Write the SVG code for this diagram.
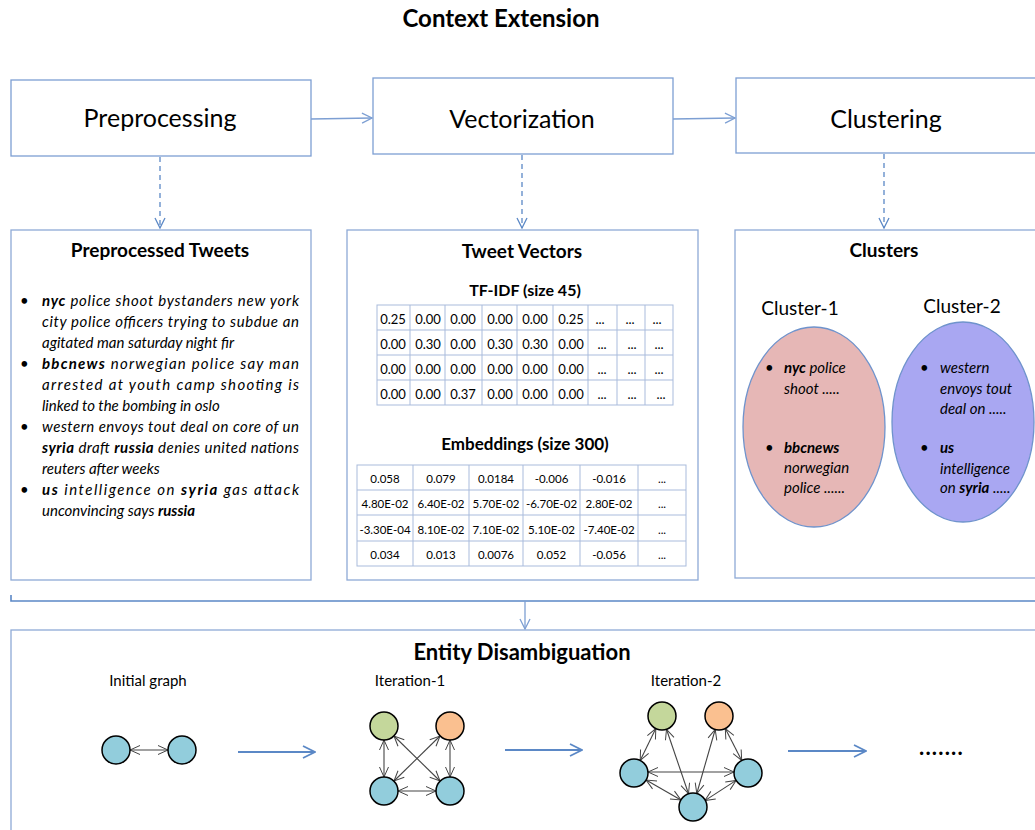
<svg xmlns="http://www.w3.org/2000/svg" width="1035" height="830" viewBox="0 0 1035 830">
<style>
text{font-family:Lato,"Open Sans","Liberation Sans",sans-serif;fill:#000}
.box{fill:#fff;stroke:#7d9fd3;stroke-width:1.3}
.panel{fill:#fff;stroke:#8eaad6;stroke-width:1.3}
.step{font-size:25px;text-anchor:middle}
.hdr{font-size:19px;font-weight:bold;text-anchor:middle}
.sub{font-size:16px;font-weight:bold;text-anchor:middle}
.tw{font-size:15px;font-style:italic}
.b{font-weight:bold}
.cell{font-size:13px;text-anchor:middle}
.ecell{font-size:11.5px;text-anchor:middle}
.grid{fill:none;stroke:#a9bbdc;stroke-width:1}
.flow{fill:none;stroke:#7d9fd3;stroke-width:1.3}
.dash{fill:none;stroke:#5b88c6;stroke-width:1.3;stroke-dasharray:5,4}
.big{fill:none;stroke:#5b88c6;stroke-width:1.8}
.edge{fill:none;stroke:#444;stroke-width:1.1}
.nd{stroke:#000;stroke-width:1.5}
.lbl{font-size:15px;text-anchor:middle}
</style>
<defs>
<marker id="ab" markerUnits="userSpaceOnUse" markerWidth="12" markerHeight="12" viewBox="0 0 12 12" refX="11" refY="6" orient="auto"><path d="M1,1 L11,6 L1,11" fill="none" stroke="#7d9fd3" stroke-width="1.3"/></marker>
<marker id="abd" markerUnits="userSpaceOnUse" markerWidth="12" markerHeight="12" viewBox="0 0 12 12" refX="11" refY="6" orient="auto"><path d="M1,1 L11,6 L1,11" fill="none" stroke="#5b88c6" stroke-width="1.3"/></marker>
<marker id="abig" markerUnits="userSpaceOnUse" markerWidth="14" markerHeight="14" viewBox="0 0 14 14" refX="13" refY="7" orient="auto"><path d="M1,1 L13,7 L1,13" fill="none" stroke="#5b88c6" stroke-width="1.8"/></marker>
<marker id="ae" markerUnits="userSpaceOnUse" markerWidth="12" markerHeight="12" viewBox="0 0 12 12" refX="11" refY="6" orient="auto-start-reverse"><path d="M1,1.5 L11,6 L1,10.5" fill="none" stroke="#444" stroke-width="1"/></marker>
</defs>
<rect width="1035" height="830" fill="#fff"/>
<text x="501" y="27" style="font-size:24px;font-weight:bold;text-anchor:middle">Context Extension</text>

<g id="preprocessing"><rect class="box" x="11" y="80" width="300" height="76"/><text class="step" x="160" y="127">Preprocessing</text></g>
<g id="vectorization"><rect class="box" x="373" y="78" width="300" height="76"/><text class="step" x="522" y="128">Vectorization</text></g>
<g id="clustering"><rect class="box" x="736" y="78" width="360" height="75"/><text class="step" x="886" y="128">Clustering</text></g>

<g id="preprocessed-tweets">
<rect class="panel" x="11" y="230" width="300" height="350"/>
<text class="hdr" x="160" y="257">Preprocessed Tweets</text>
<g class="tw">
<text x="20" y="306">•</text><text x="20" y="369">•</text><text x="20" y="432">•</text><text x="20" y="495">•</text>
<text x="42" y="306" textLength="257" lengthAdjust="spacing"><tspan class="b">nyc</tspan> police shoot bystanders new york</text>
<text x="42" y="327" textLength="257" lengthAdjust="spacing">city police officers trying to subdue an</text>
<text x="42" y="348">agitated man saturday night fir</text>
<text x="42" y="369" textLength="257" lengthAdjust="spacing"><tspan class="b">bbcnews</tspan> norwegian police say man</text>
<text x="42" y="390" textLength="257" lengthAdjust="spacing">arrested at youth camp shooting is</text>
<text x="42" y="411">linked to the bombing in oslo</text>
<text x="42" y="432" textLength="257" lengthAdjust="spacing">western envoys tout deal on core of un</text>
<text x="42" y="453" textLength="257" lengthAdjust="spacing"><tspan class="b">syria</tspan> draft <tspan class="b">russia</tspan> denies united nations</text>
<text x="42" y="474">reuters after weeks</text>
<text x="42" y="495" textLength="257" lengthAdjust="spacing"><tspan class="b">us</tspan> intelligence on <tspan class="b">syria</tspan> gas attack</text>
<text x="42" y="516">unconvincing says <tspan class="b">russia</tspan></text>
</g>
</g>

<g id="tweet-vectors">
<rect class="panel" x="347" y="230" width="351" height="350"/>
<text class="hdr" x="522" y="258">Tweet Vectors</text>
<text class="sub" x="525" y="296">TF-IDF (size 45)</text>
<g class="grid">
<rect x="377" y="305" width="296" height="100"/>
<path d="M377,330H673M377,355H673M377,380H673M410,305V405M445,305V405M482,305V405M517,305V405M553,305V405M588,305V405M617,305V405M645,305V405"/>
</g>
<g class="cell">
<text y="324"><tspan x="393">0.25</tspan><tspan x="428">0.00</tspan><tspan x="463">0.00</tspan><tspan x="500">0.00</tspan><tspan x="535">0.00</tspan><tspan x="571">0.25</tspan><tspan x="600">...</tspan><tspan x="630">...</tspan><tspan x="657">...</tspan></text>
<text y="349"><tspan x="393">0.00</tspan><tspan x="428">0.30</tspan><tspan x="463">0.00</tspan><tspan x="500">0.30</tspan><tspan x="535">0.30</tspan><tspan x="571">0.00</tspan><tspan x="602">...</tspan><tspan x="632">...</tspan><tspan x="659">...</tspan></text>
<text y="374"><tspan x="393">0.00</tspan><tspan x="428">0.00</tspan><tspan x="463">0.00</tspan><tspan x="500">0.00</tspan><tspan x="535">0.00</tspan><tspan x="571">0.00</tspan><tspan x="602">...</tspan><tspan x="632">...</tspan><tspan x="659">...</tspan></text>
<text y="399"><tspan x="393">0.00</tspan><tspan x="428">0.00</tspan><tspan x="463">0.37</tspan><tspan x="500">0.00</tspan><tspan x="535">0.00</tspan><tspan x="571">0.00</tspan><tspan x="602">...</tspan><tspan x="632">...</tspan><tspan x="661">...</tspan></text>
</g>
<text class="sub" x="525" y="450" style="font-size:17px">Embeddings (size 300)</text>
<g class="grid">
<rect x="357" y="465" width="329" height="101"/>
<path d="M357,490H686M357,515H686M357,541H686M413,465V566M469,465V566M523,465V566M580,465V566M638,465V566"/>
</g>
<g class="ecell">
<text y="483"><tspan x="385">0.058</tspan><tspan x="441">0.079</tspan><tspan x="496">0.0184</tspan><tspan x="551.5">-0.006</tspan><tspan x="609">-0.016</tspan><tspan x="662">...</tspan></text>
<text y="508"><tspan x="385">4.80E-02</tspan><tspan x="441">6.40E-02</tspan><tspan x="496">5.70E-02</tspan><tspan x="551.5">-6.70E-02</tspan><tspan x="609">2.80E-02</tspan><tspan x="662">...</tspan></text>
<text y="534"><tspan x="385">-3.30E-04</tspan><tspan x="441">8.10E-02</tspan><tspan x="496">7.10E-02</tspan><tspan x="551.5">5.10E-02</tspan><tspan x="609">-7.40E-02</tspan><tspan x="662">...</tspan></text>
<text y="559"><tspan x="385">0.034</tspan><tspan x="441">0.013</tspan><tspan x="496">0.0076</tspan><tspan x="551.5">0.052</tspan><tspan x="609">-0.056</tspan><tspan x="662">...</tspan></text>
</g>
</g>

<g id="clusters">
<rect class="panel" x="735" y="230" width="360" height="348"/>
<text class="hdr" x="884" y="257">Clusters</text>
<text x="800" y="315" style="font-size:19px;text-anchor:middle">Cluster-1</text>
<text x="962" y="313" style="font-size:19px;text-anchor:middle">Cluster-2</text>
<ellipse cx="814" cy="427" rx="71" ry="100" fill="#e6b7b6" stroke="#6f93cc" stroke-width="1.3"/>
<ellipse cx="963" cy="422" rx="71" ry="100" fill="#a9a7f2" stroke="#6f93cc" stroke-width="1.3"/>
<g class="tw">
<text x="765" y="373">•</text><text x="765" y="453">•</text>
<text x="784" y="373"><tspan class="b">nyc</tspan> police</text>
<text x="784" y="394">shoot .....</text>
<text x="784" y="453" class="b">bbcnews</text>
<text x="784" y="473">norwegian</text>
<text x="784" y="493">police ......</text>
<text x="920" y="373">•</text><text x="920" y="453">•</text>
<text x="940" y="373">western</text>
<text x="940" y="394">envoys  tout</text>
<text x="940" y="414">deal  on  .....</text>
<text x="940" y="453" class="b">us</text>
<text x="940" y="474">intelligence</text>
<text x="940" y="493">on <tspan class="b">syria</tspan> .....</text>
</g>
</g>

<g id="connectors">
<path class="flow" d="M311,119 L372,118" marker-end="url(#ab)"/>
<path class="flow" d="M673,119 L735,118" marker-end="url(#ab)"/>
<path class="dash" d="M160,157 V228" marker-end="url(#abd)"/>
<path class="dash" d="M522,155 V228" marker-end="url(#abd)"/>
<path class="dash" d="M884,154 V228" marker-end="url(#abd)"/>
<path d="M11,595 V601 H1035" fill="none" stroke="#5b88c6" stroke-width="1.6"/>
<path class="flow" d="M525,601 V629" marker-end="url(#ab)"/>
</g>

<g id="entity-disambiguation">
<rect class="panel" x="11" y="630" width="1100" height="300"/>
<text x="522" y="660" style="font-size:22px;font-weight:bold;text-anchor:middle">Entity Disambiguation</text>
<text class="lbl" x="148" y="686">Initial graph</text>
<text class="lbl" x="410" y="686">Iteration-1</text>
<text class="lbl" x="686" y="686">Iteration-2</text>
<g id="graph-edges">
<path class="edge" d="M130,750 H168" marker-start="url(#ae)" marker-end="url(#ae)"/>
<path class="edge" d="M384,740 V777" marker-start="url(#ae)" marker-end="url(#ae)"/>
<path class="edge" d="M450,740 V777" marker-start="url(#ae)" marker-end="url(#ae)"/>
<path class="edge" d="M398,791 H436" marker-start="url(#ae)" marker-end="url(#ae)"/>
<path class="edge" d="M394,736 L440,781" marker-start="url(#ae)" marker-end="url(#ae)"/>
<path class="edge" d="M440,736 L394,781" marker-start="url(#ae)" marker-end="url(#ae)"/>
<path class="edge" d="M655.8,728.6 L640.2,760.4" marker-start="url(#ae)" marker-end="url(#ae)"/>
<path class="edge" d="M666.5,729.3 L688.5,793.7" marker-start="url(#ae)" marker-end="url(#ae)"/>
<path class="edge" d="M715.2,729.5 L696.8,793.5" marker-start="url(#ae)" marker-end="url(#ae)"/>
<path class="edge" d="M725.3,728.5 L741.7,760.5" marker-start="url(#ae)" marker-end="url(#ae)"/>
<path class="edge" d="M648,772 H734" marker-start="url(#ae)" marker-end="url(#ae)"/>
<path class="edge" d="M646.1,780 L680.9,800" marker-start="url(#ae)" marker-end="url(#ae)"/>
<path class="edge" d="M736.1,780.4 L704.9,800.6" marker-start="url(#ae)" marker-end="url(#ae)"/>
</g>
<g id="graph-nodes">
<circle class="nd" cx="116" cy="750" r="14" fill="#92cddc"/>
<circle class="nd" cx="182" cy="750" r="14" fill="#92cddc"/>
<circle class="nd" cx="384" cy="726" r="14" fill="#c4d79b"/>
<circle class="nd" cx="450" cy="726" r="14" fill="#fac090"/>
<circle class="nd" cx="384" cy="791" r="14" fill="#92cddc"/>
<circle class="nd" cx="450" cy="791" r="14" fill="#92cddc"/>
<circle class="nd" cx="662" cy="716" r="14" fill="#c4d79b"/>
<circle class="nd" cx="719" cy="716" r="14" fill="#fac090"/>
<circle class="nd" cx="634" cy="773" r="14" fill="#92cddc"/>
<circle class="nd" cx="748" cy="773" r="14" fill="#92cddc"/>
<circle class="nd" cx="693" cy="807" r="14" fill="#92cddc"/>
</g>
<g id="step-arrows">
<path class="big" d="M238,752 H315" marker-end="url(#abig)"/>
<path class="big" d="M505,750 H582" marker-end="url(#abig)"/>
<path class="big" d="M788,751 H866" marker-end="url(#abig)"/>
</g>
<text x="919" y="755" style="font-size:22px;font-weight:bold;letter-spacing:1.2px">.......</text>
</g>
</svg>
